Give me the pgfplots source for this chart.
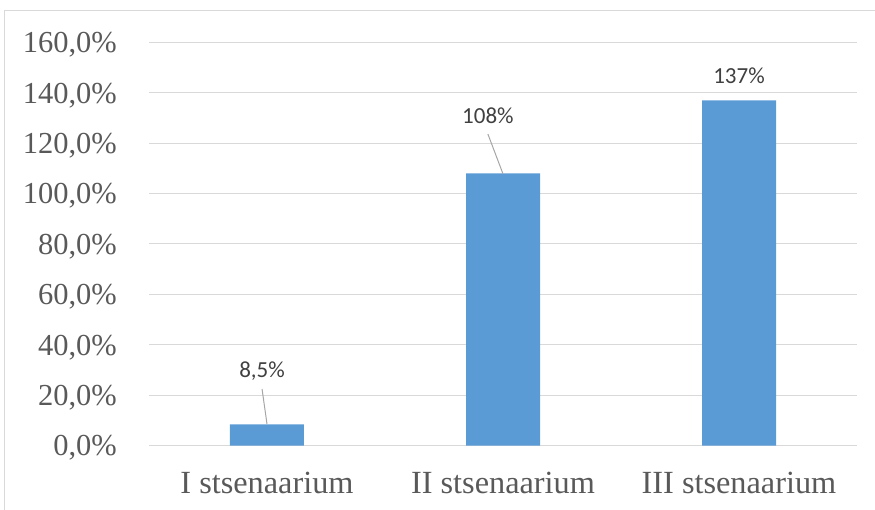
\documentclass[border=0pt]{standalone}
\usepackage{pgfplots}
\pgfplotsset{compat=1.18}
\usepackage{fontspec}
\setmainfont{Liberation Serif}
\newfontfamily\carlito{Carlito}
\definecolor{barblue}{HTML}{5B9BD5}
\definecolor{gridgray}{HTML}{D9D9D9}
\definecolor{ticktext}{HTML}{595959}
\definecolor{labeltext}{HTML}{404040}
\definecolor{leader}{HTML}{A6A6A6}
\begin{document}
\begin{tikzpicture}
\useasboundingbox (-149pt,-64.3pt) rectangle (726pt,445.7pt);
\draw[gridgray, line width=1pt] (-144pt,-80pt) -- (-144pt,434.7pt) -- (740pt,434.7pt);
\begin{axis}[
  at={(0pt,0pt)}, anchor=south west,
  scale only axis, width=708pt, height=403.4pt,
  xmin=-0.5, xmax=2.5, ymin=0, ymax=160,
  ybar, bar width=74pt,
  axis line style={draw=none},
  major tick length=0pt,
  ymajorgrids, grid style={gridgray, line width=1pt},
  ytick={0,20,40,60,80,100,120,140,160},
  yticklabels={{0,0\%},{20,0\%},{40,0\%},{60,0\%},{80,0\%},{100,0\%},{120,0\%},{140,0\%},{160,0\%}},
  yticklabel style={anchor=base east, inner sep=0pt, xshift=-32pt, yshift=-10.3pt,
    font=\fontsize{30.5}{36}\selectfont, text=ticktext},
  xtick={0,1,2},
  xticklabels={I stsenaarium, II stsenaarium, III stsenaarium},
  xticklabel style={anchor=base, inner sep=0pt, yshift=-48pt,
    font=\fontsize{32.3}{38}\selectfont, text=ticktext},
  clip=false,
]
\addplot[fill=barblue, draw=none] coordinates {(0,8.5) (1,108) (2,137)};
\draw[leader, line width=1pt] (axis cs:-0.021,22.5) -- (axis cs:0.0,8.6);
\draw[leader, line width=1pt] (axis cs:0.936,123.6) -- (axis cs:1.0,107.8);
\node[font=\carlito\fontsize{23}{27}\selectfont, text=labeltext] at (axis cs:-0.021,29.4) {8,5\%};
\node[font=\carlito\fontsize{23}{27}\selectfont, text=labeltext] at (axis cs:0.936,131) {108\%};
\node[font=\carlito\fontsize{23}{27}\selectfont, text=labeltext] at (axis cs:2,146.8) {137\%};
\end{axis}
\end{tikzpicture}
\end{document}
